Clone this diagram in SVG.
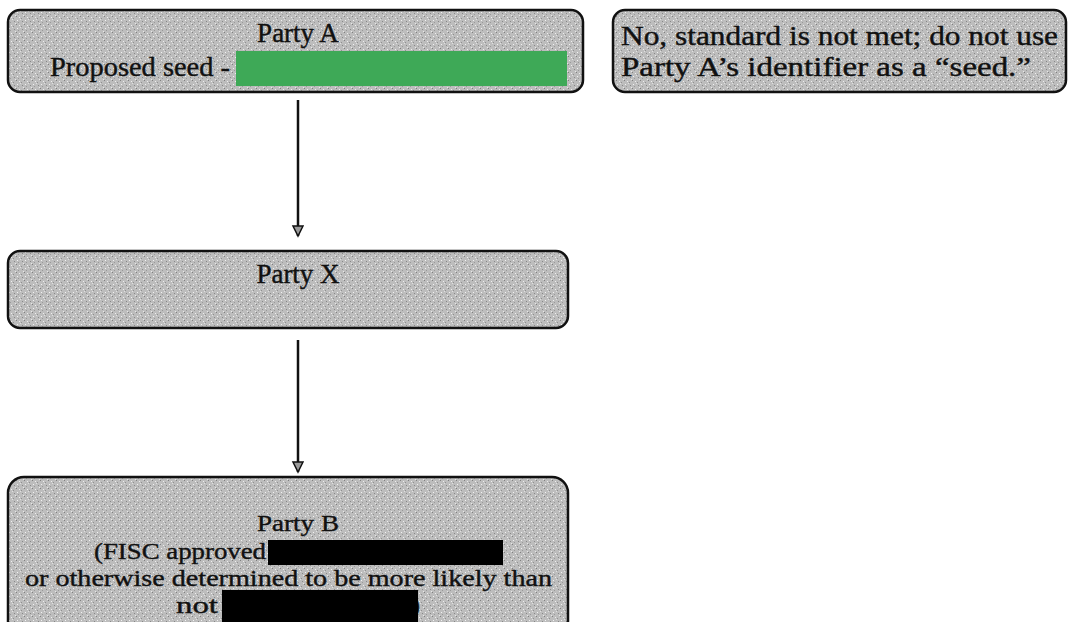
<svg xmlns="http://www.w3.org/2000/svg" width="1077" height="622" viewBox="0 0 1077 622">
<style>
.box{fill:url(#grain);stroke:#111;stroke-width:2.5}
.t{font-family:"Liberation Serif","Times New Roman",serif;font-size:27px;fill:#111;stroke:#111;stroke-width:0.4}
.s{font-size:24px}
.c{text-anchor:middle}
.edge{stroke:#111;stroke-width:2.5;fill:none}
</style>
<defs>
<pattern id="grain" width="8" height="8" patternUnits="userSpaceOnUse">
<rect width="8" height="8" fill="#bdbdbd"/>
<rect x="0" y="0" width="1" height="1" fill="#808080"/>
<rect x="3" y="1" width="1" height="1" fill="#eeeeee"/>
<rect x="5" y="2" width="1" height="1" fill="#909090"/>
<rect x="1" y="4" width="1" height="1" fill="#f2f2f2"/>
<rect x="6" y="5" width="1" height="1" fill="#888"/>
<rect x="2" y="6" width="1" height="1" fill="#999"/>
<rect x="7" y="7" width="1" height="1" fill="#e8e8e8"/>
<rect x="4" y="3" width="1" height="1" fill="#e0e0e0"/>
</pattern>
<marker id="arr" markerWidth="14" markerHeight="14" refX="11" refY="6" orient="auto" markerUnits="userSpaceOnUse">
<path d="M1,1 L11,6 L1,11 Z" fill="#9a9a9a" stroke="#111" stroke-width="1.5"/>
</marker>
</defs>
<rect width="1077" height="622" fill="#fff"/>
<g id="partyA">
<rect class="box" x="8" y="10" width="575" height="82" rx="12"/>
<text class="t c" x="298" y="42">Party A</text>
<text class="t" x="50" y="76" textLength="180" lengthAdjust="spacingAndGlyphs">Proposed seed -</text>
<rect x="236" y="51" width="331" height="35" fill="#3ea957"/>
</g>
<g id="note">
<rect class="box" x="613" y="10" width="453" height="82" rx="12"/>
<text class="t" x="621" y="45" textLength="437" lengthAdjust="spacingAndGlyphs">No, standard is not met; do not use</text>
<text class="t" x="621" y="76" textLength="410" lengthAdjust="spacingAndGlyphs">Party A’s identifier as a “seed.”</text>
</g>
<g id="partyX">
<rect class="box" x="8" y="251" width="560" height="77" rx="12"/>
<text class="t c" x="298" y="283">Party X</text>
</g>
<g id="partyB">
<rect class="box" x="8" y="477" width="560" height="160" rx="16"/>
<text class="t s c" x="298" y="531" textLength="82" lengthAdjust="spacingAndGlyphs">Party B</text>
<text class="t s" x="94" y="559" textLength="172" lengthAdjust="spacingAndGlyphs">(FISC approved</text>
<rect x="268" y="540" width="235" height="25" fill="#000"/>
<text class="t s" x="25" y="586" textLength="527" lengthAdjust="spacingAndGlyphs">or otherwise determined to be more likely than</text>
<text class="t s" x="176" y="613" textLength="42" lengthAdjust="spacingAndGlyphs">not</text>
<text class="t s" x="412" y="613">)</text>
<rect x="222" y="590" width="196" height="32" fill="#000"/>
</g>
<g id="connectors">
<line class="edge" x1="298" y1="100" x2="298" y2="236" marker-end="url(#arr)"/>
<line class="edge" x1="298" y1="340" x2="298" y2="472" marker-end="url(#arr)"/>
</g>
</svg>
